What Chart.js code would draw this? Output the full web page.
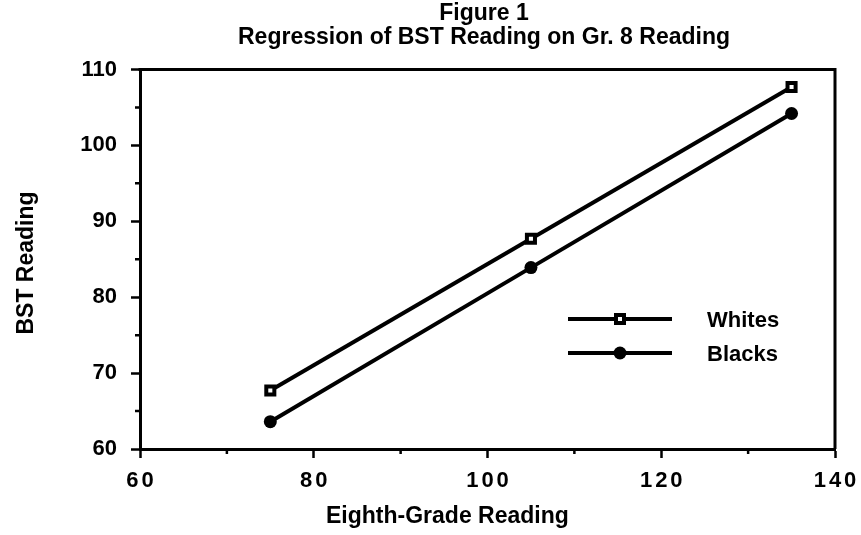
<!DOCTYPE html>
<html>
<head>
<meta charset="utf-8">
<script src="https://cdn.jsdelivr.net/npm/chart.js@4/dist/chart.umd.min.js"></script>
<style>
  html, body { margin: 0; padding: 0; background: #fff; }
  #wrap { width: 861px; height: 535px; }
</style>
</head>
<body>
<div id="wrap"><canvas id="fig"></canvas></div>
<script>
'use strict';

// ── Data ──────────────────────────────────────────────────────────────────────
const gradeEight = [75, 105, 135];
const whites     = [67.7, 87.7, 107.7];
const blacks     = [63.6, 83.9, 104.2];
const xTicks     = [60, 80, 100, 120, 140];
const xMinor     = [70, 90, 110, 130];
const yMinor     = [65, 75, 85, 95, 105];

const titleLines = ['Figure 1', 'Regression of BST Reading on Gr. 8 Reading'];
const FONT = "'Liberation Sans', Arial, Helvetica, sans-serif";

// ── Extras: titles, frame, minor ticks, x labels, legend ──────────────────────
const extras = {
  id: 'extras',
  afterDraw(chart) {
    const { ctx, chartArea: a, scales: { x, y } } = chart;
    ctx.save();
    ctx.strokeStyle = '#000';
    ctx.fillStyle = '#000';

    // frame top + right
    ctx.lineWidth = 3;
    ctx.beginPath();
    ctx.moveTo(a.left - 1.5, a.top);
    ctx.lineTo(a.right, a.top);
    ctx.lineTo(a.right, a.bottom);
    ctx.stroke();

    // minor ticks
    ctx.lineWidth = 2.5;
    ctx.beginPath();
    xMinor.forEach(v => {
      const px = x.getPixelForValue(v);
      ctx.moveTo(px, a.bottom);
      ctx.lineTo(px, a.bottom + 5);
    });
    yMinor.forEach(v => {
      const py = y.getPixelForValue(v);
      ctx.moveTo(a.left, py);
      ctx.lineTo(a.left - 5, py);
    });
    ctx.stroke();

    // x tick labels (spaced digits)
    ctx.font = `bold 22px ${FONT}`;
    ctx.textAlign = 'center';
    ctx.textBaseline = 'middle';
    ctx.letterSpacing = '3px';
    xTicks.forEach(v => ctx.fillText(String(v), x.getPixelForValue(v) + 1.5, 481));
    ctx.letterSpacing = '0px';

    // titles
    ctx.textBaseline = 'alphabetic';
    ctx.font = `bold 23px ${FONT}`;
    ctx.fillText(titleLines[0], 484, 20);
    ctx.fillText(titleLines[1], 484, 44);

    ctx.textAlign = 'left';
    ctx.fillText('Eighth-Grade Reading', 326, 523);
    ctx.save();
    ctx.translate(33, 263);
    ctx.rotate(-Math.PI / 2);
    ctx.textAlign = 'center';
    ctx.fillText('BST Reading', 0, 0);
    ctx.restore();

    // legend
    const rows = [
      { label: 'Whites', y: 319, square: true },
      { label: 'Blacks', y: 353, square: false },
    ];
    rows.forEach(r => {
      ctx.lineWidth = 4;
      ctx.beginPath();
      ctx.moveTo(568, r.y);
      ctx.lineTo(672, r.y);
      ctx.stroke();
      if (r.square) {
        ctx.fillRect(614, r.y - 6, 12, 12);
        ctx.fillStyle = '#fff';
        ctx.fillRect(618, r.y - 2, 4, 4);
        ctx.fillStyle = '#000';
      } else {
        ctx.beginPath();
        ctx.arc(620, r.y, 6.5, 0, Math.PI * 2);
        ctx.fill();
      }
      ctx.font = `bold 22px ${FONT}`;
      ctx.textAlign = 'left';
      ctx.fillText(r.label, 707, r.y + 8);
    });
    ctx.restore();
  }
};

// ── Chart ─────────────────────────────────────────────────────────────────────
function initChart() {
  const ctx = document.getElementById('fig');
  new Chart(ctx, {
    type: 'scatter',
    data: {
      datasets: [{
        label: 'Whites',
        data: gradeEight.map((g, i) => ({ x: g, y: whites[i] })),
        showLine: true,
        borderColor: '#000',
        borderWidth: 4,
        pointStyle: 'rect',
        pointRadius: 5.7,
        pointBackgroundColor: '#fff',
        pointBorderColor: '#000',
        pointBorderWidth: 4,
      }, {
        label: 'Blacks',
        data: gradeEight.map((g, i) => ({ x: g, y: blacks[i] })),
        showLine: true,
        borderColor: '#000',
        borderWidth: 4,
        pointStyle: 'circle',
        pointRadius: 6.5,
        pointBackgroundColor: '#000',
        pointBorderColor: '#000',
        pointBorderWidth: 0,
      }]
    },
    options: {
      responsive: true,
      maintainAspectRatio: false,
      animation: false,
      layout: { padding: { top: 69.5, right: 26, left: 0, bottom: 0 } },
      plugins: {
        legend: { display: false },
        tooltip: { enabled: false },
        title: { display: false },
      },
      scales: {
        x: {
          type: 'linear',
          min: 60, max: 140,
          afterFit: s => { s.height = 86; },
          border: { display: true, color: '#000', width: 3 },
          grid: { display: true, drawOnChartArea: false, drawTicks: true, tickLength: 9, tickWidth: 2.5, tickColor: '#000' },
          ticks: { stepSize: 20, display: false },
        },
        y: {
          min: 60, max: 110,
          afterFit: s => { s.width = 140; },
          border: { display: true, color: '#000', width: 3 },
          grid: { display: true, drawOnChartArea: false, drawTicks: true, tickLength: 9, tickWidth: 2.5, tickColor: '#000' },
          ticks: {
            stepSize: 10,
            color: '#000',
            padding: 14,
            font: { family: FONT, size: 22, weight: 'bold' },
          },
        }
      }
    },
    plugins: [extras]
  });
}

document.addEventListener('DOMContentLoaded', initChart);
</script>
</body>
</html>
